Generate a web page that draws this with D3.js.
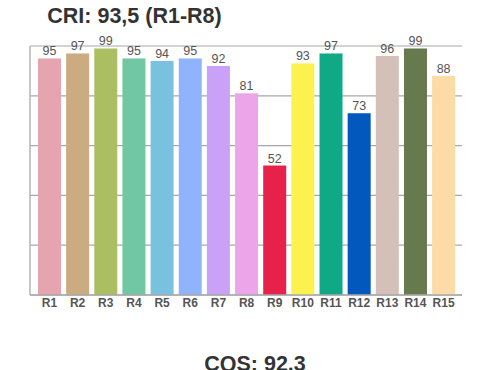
<!DOCTYPE html>
<html lang="en">
<head>
    <meta charset="UTF-8">
    <title>CRI R1-R15</title>
    <script src="https://d3js.org/d3.v7.min.js"></script>
    <style>
        body { margin: 0; padding: 0; background: #fff; }
        text { font-family: "Liberation Sans", Arial, Helvetica, sans-serif; }
    </style>
</head>
<body>
<svg id="chart" width="500" height="370"></svg>
<script>
    // data
    const categories = ["R1", "R2", "R3", "R4", "R5", "R6", "R7", "R8", "R9", "R10", "R11", "R12", "R13", "R14", "R15"];
    const values = [95, 97, 99, 95, 94, 95, 92, 81, 52, 93, 97, 73, 96, 99, 88];
    const colors = ["#e5a4ae", "#cbab80", "#abbf62", "#70c7a2", "#7ac0df", "#8fb4fb", "#c9a2f7", "#eda5ea",
                    "#e8214b", "#fbf250", "#10a985", "#0258bd", "#d4bfb9", "#667a4e", "#fcdba6"];
    const gridTicks = [0, 20, 40, 60, 80, 100];
    const title = "CRI: 93,5 (R1-R8)";
    const footer = "CQS: 92.3";

    const svg = d3.select("#chart");

    let x = d3.scaleBand()
        .domain(categories)
        .range([35.4, 457.7])
        .paddingInner(0.183)
        .paddingOuter(0.0915);

    let y = d3.scaleLinear()
        .domain([0, 100])
        .range([295, 46]);

    // gridlines
    svg.append("g")
        .selectAll("line")
        .data(gridTicks)
        .enter().append("line")
        .attr("x1", 30)
        .attr("x2", 462)
        .attr("y1", d => y(d))
        .attr("y2", d => y(d))
        .style("stroke", "#a8a8a8")
        .style("stroke-width", 1.2);

    // left axis line
    svg.append("line")
        .attr("x1", 30).attr("x2", 30)
        .attr("y1", y(100)).attr("y2", y(0))
        .style("stroke", "#b4b4b4")
        .style("stroke-width", 1.5);

    // bars
    svg.append("g")
        .selectAll("rect")
        .data(values)
        .enter().append("rect")
        .attr("x", (d, i) => x(categories[i]))
        .attr("y", d => y(d))
        .attr("width", x.bandwidth())
        .attr("height", d => y(0) - y(d))
        .style("fill", (d, i) => colors[i]);

    // baseline on top of bars
    svg.append("line")
        .attr("x1", 30).attr("x2", 462)
        .attr("y1", y(0)).attr("y2", y(0))
        .style("stroke", "#a8a8a8")
        .style("stroke-width", 1.5);

    // value labels
    svg.append("g")
        .selectAll("text")
        .data(values)
        .enter().append("text")
        .attr("x", (d, i) => x(categories[i]) + x.bandwidth() / 2)
        .attr("y", d => y(d) - 3)
        .attr("text-anchor", "middle")
        .style("font-size", "12.5px")
        .style("fill", "#555")
        .text(d => d);

    // category labels
    svg.append("g")
        .selectAll("text")
        .data(categories)
        .enter().append("text")
        .attr("x", d => x(d) + x.bandwidth() / 2)
        .attr("y", 307)
        .attr("text-anchor", "middle")
        .style("font-size", "12px")
        .style("font-weight", "bold")
        .style("fill", "#555")
        .text(d => d);

    svg.append("text")
        .attr("x", 134.5)
        .attr("y", 23)
        .attr("text-anchor", "middle")
        .style("font-size", "21.5px")
        .style("font-weight", "bold")
        .style("fill", "#333")
        .text(title);

    svg.append("text")
        .attr("x", 255)
        .attr("y", 371)
        .attr("text-anchor", "middle")
        .style("font-size", "21.5px")
        .style("font-weight", "bold")
        .style("fill", "#333")
        .text(footer);
</script>
</body>
</html>
